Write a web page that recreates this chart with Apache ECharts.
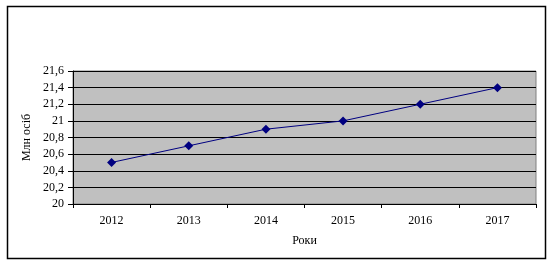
<!DOCTYPE html>
<html><head><meta charset="utf-8">
<script src="https://cdn.jsdelivr.net/npm/echarts@6/dist/echarts.min.js"></script>
<style>html,body{margin:0;padding:0;background:#fff}#c{width:552px;height:263px}</style>
</head><body><div id="c"></div>
<script>
const years = ['2012','2013','2014','2015','2016','2017'];
const values = [20.5, 20.7, 20.9, 21.0, 21.2, 21.4];
const yMin = 20, yMax = 21.6, yStep = 0.2;
const yTitle = 'Млн осіб';
const xTitle = 'Роки';
const font = '"Liberation Serif","Times New Roman",serif';
const chart = echarts.init(document.getElementById('c'));
chart.setOption({
  animation: false,
  backgroundColor: '#fff',
  graphic: [{type:'rect', shape:{x:7.5,y:6.5,width:538,height:252}, style:{fill:'none',stroke:'#000',lineWidth:1.5}, z:-1}],
  grid: {left:73, top:71, width:463, height:133, show:true, backgroundColor:'#C0C0C0', borderColor:'#808080', borderWidth:1},
  xAxis: {type:'category', data: years, boundaryGap:true,
    axisLine:{lineStyle:{color:'#000',width:1}},
    axisTick:{show:true, alignWithLabel:false, length:4, lineStyle:{color:'#000'}},
    axisLabel:{color:'#000', fontFamily:font, fontSize:12, margin:11},
    name: xTitle, nameLocation:'middle', nameGap:31, nameMoveOverlap:false, nameTextStyle:{color:'#000', fontFamily:font, fontSize:12}},
  yAxis: {type:'value', min:yMin, max:yMax, interval:yStep,
    axisLine:{show:true, lineStyle:{color:'#000',width:1}},
    axisTick:{show:true, length:5, lineStyle:{color:'#000'}},
    splitLine:{show:true, lineStyle:{color:'#000',width:1}},
    axisLabel:{color:'#000', fontFamily:font, fontSize:12, margin:9, formatter: v => String(Math.round(v*10)/10).replace('.',',')},
    name: yTitle, nameLocation:'middle', nameGap:40, nameRotate:90, nameMoveOverlap:false, nameTextStyle:{color:'#000', fontFamily:font, fontSize:12}},
  series: [{type:'line', data: values, symbol:'diamond', symbolSize:9, showSymbol:true,
    lineStyle:{color:'#000080', width:1}, itemStyle:{color:'#000080'}}]
});
</script></body></html>
